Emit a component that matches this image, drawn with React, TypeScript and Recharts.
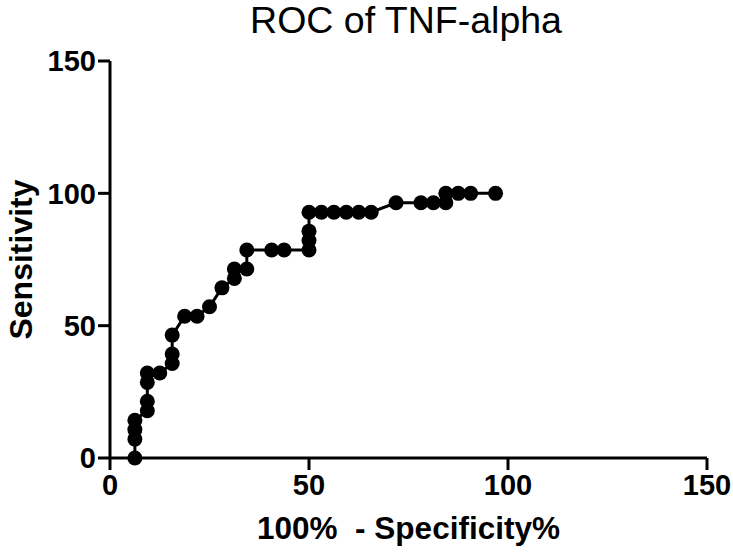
import React from "react";
import { LineChart, Line, XAxis, YAxis } from "recharts";

const fprValues = [
  6.25, 6.25, 6.25, 6.25, 9.375, 9.375, 9.375, 9.375, 12.5, 15.625, 15.625, 15.625,
  18.75, 21.875, 25, 28.125, 31.25, 31.25, 34.375, 34.375, 40.625, 43.75, 50, 50, 50, 50,
  53.125, 56.25, 59.375, 62.5, 65.625, 71.875, 78.125, 81.25, 84.375, 84.375, 87.5, 90.625, 96.875,
];
const sensitivityValues = [
  0, 7.14, 10.71, 14.29, 17.86, 21.43, 28.57, 32.14, 32.14, 35.71, 39.29, 46.43,
  53.57, 53.57, 57.14, 64.29, 67.86, 71.43, 71.43, 78.57, 78.57, 78.57, 78.57, 82.14, 85.71, 92.86,
  92.86, 92.86, 92.86, 92.86, 92.86, 96.43, 96.43, 96.43, 96.43, 100, 100, 100, 100,
];
const xTicks = [0, 50, 100, 150];
const yTicks = [0, 50, 100, 150];
const titleText = "ROC of TNF-alpha";
const xLabelText = "100%\u00A0\u00A0- Specificity%";
const yLabelText = "Sensitivity";

const data = fprValues.map((x, i) => ({ x, y: sensitivityValues[i] }));

const FONT = "'Liberation Sans', Arial, Helvetica, sans-serif";

export default function App() {
  return (
    <div style={{ position: "absolute", left: 0, top: 0, width: 733, height: 557, background: "#fff", fontFamily: FONT }}>
      <div
        style={{
          position: "absolute",
          left: 406,
          top: 2,
          transform: "translateX(-50%)",
          fontSize: 37.5,
          lineHeight: 1,
          whiteSpace: "nowrap",
          color: "#000",
          fontFamily: FONT,
        }}
      >
        {titleText}
      </div>
      <LineChart
        width={733}
        height={557}
        data={data}
        margin={{ top: 61, right: 26, bottom: 0, left: 0 }}
        style={{ position: "absolute", left: 0, top: 0 }}
      >
        <XAxis
          dataKey="x"
          type="number"
          domain={[0, 150]}
          ticks={xTicks}
          height={99}
          tickSize={12}
          tickMargin={4}
          axisLine={{ stroke: "#000", strokeWidth: 3 }}
          tickLine={{ stroke: "#000", strokeWidth: 3 }}
          tick={{ fill: "#000", fontSize: 29, fontWeight: "bold", fontFamily: FONT }}
          label={{
            value: xLabelText,
            position: "insideBottom",
            offset: 18,
            style: { fill: "#000", fontSize: 31.5, fontWeight: "bold", fontFamily: FONT, textAnchor: "middle" },
          }}
        />
        <YAxis
          dataKey="y"
          type="number"
          domain={[0, 150]}
          ticks={yTicks}
          width={110}
          tickSize={12}
          tickMargin={2}
          axisLine={{ stroke: "#000", strokeWidth: 3 }}
          tickLine={{ stroke: "#000", strokeWidth: 3 }}
          tick={{ fill: "#000", fontSize: 29, fontWeight: "bold", fontFamily: FONT }}
          label={{
            value: yLabelText,
            angle: -90,
            position: "insideLeft",
            offset: 21,
            style: { fill: "#000", fontSize: 32, fontWeight: "bold", fontFamily: FONT, textAnchor: "middle" },
          }}
        />
        <Line
          dataKey="y"
          type="linear"
          stroke="#000"
          strokeWidth={3}
          dot={{ r: 7.5, fill: "#000", stroke: "none" }}
          activeDot={false}
          isAnimationActive={false}
        />
      </LineChart>
    </div>
  );
}
